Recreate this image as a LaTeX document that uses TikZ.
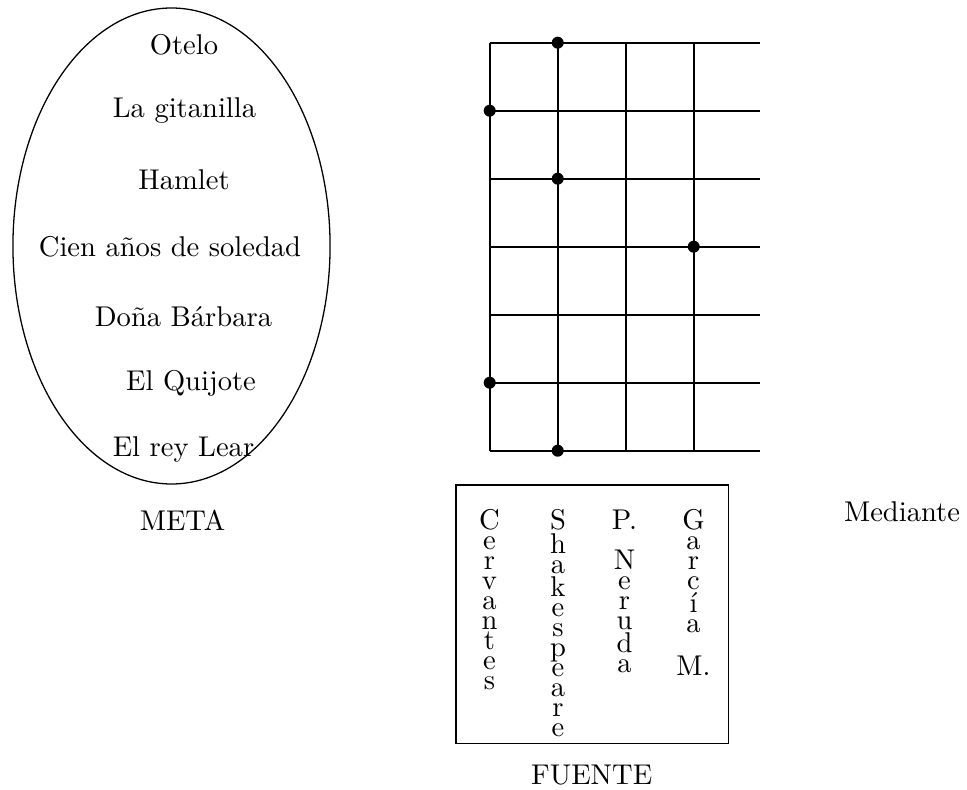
\documentclass[tikz,border=0pt]{standalone}
\usetikzlibrary{shapes.geometric}
\begin{document}
\begin{tikzpicture}[x=0.35pt,y=-0.35pt,
  every node/.style={font=\fontsize{10}{12}\selectfont, inner sep=0pt},
  title/.style={font=\fontsize{10}{12}\selectfont},
  vstack/.style={align=center, anchor=north, font=\fontsize{10}{7}\selectfont},
  gridline/.style={line width=0.6pt},
  dot/.style={circle, fill=black, minimum size=4.2pt, inner sep=0pt}]
\useasboundingbox (0,0) rectangle (967,790);

% META ellipse
\node[draw, ellipse, line width=0.45pt, minimum width=111pt, minimum height=166.6pt] (meta) at (171.5,246) {};
\node (otelo)   at (184,45)   {Otelo};
\node (gitan)   at (184.5,111) {La gitanilla};
\node (hamlet)  at (184,180)  {Hamlet};
\node (cien)    at (170,247)  {Cien años de soledad};
\node (dona)    at (183.5,317) {Doña Bárbara};
\node (quijote) at (191,383)  {El Quijote};
\node (lear)    at (183.5,450) {El rey Lear};
\node[title] (metalbl) at (182.5,520) {META};

% grid
\foreach \i in {0,...,3}{
  \foreach \j in {0,...,6}{
    \coordinate (g\i\j) at (489.7+68*\i, 42.7+68*\j);
  }
}
\foreach \j in {0,...,6}{
  \coordinate (r\j) at (760, 42.7+68*\j);
  \draw[gridline] (g0\j) -- (r\j);
}
\foreach \i in {0,...,3}{
  \draw[gridline] (g\i0) -- (g\i6);
}
\node[dot] (d1) at (g10) {};
\node[dot] (d2) at (g01) {};
\node[dot] (d3) at (g12) {};
\node[dot] (d4) at (g33) {};
\node[dot] (d5) at (g05) {};
\node[dot] (d6) at (g16) {};

% FUENTE box
\node[draw, line width=0.45pt, minimum width=95.3pt, minimum height=90.4pt] (fuente) at (592.2,614.2) {};
\node[vstack] (cerv)  at (489.5,509) {C\\e\\r\\v\\a\\n\\t\\e\\s};
\node[vstack] (shak)  at (558,509)   {S\\h\\a\\k\\e\\s\\p\\e\\a\\r\\e};
\node[vstack] (neru)  at (624.5,509) {P.\\[7pt]N\\e\\r\\u\\d\\a};
\node[vstack] (garc)  at (693.5,509) {G\\a\\r\\c\\í\\a\\[8pt]M.};
\node[title] (fuentelbl) at (591.7,775) {FUENTE};

\node[title] (mediante) at (902,512) {Mediante};
\end{tikzpicture}
\end{document}
